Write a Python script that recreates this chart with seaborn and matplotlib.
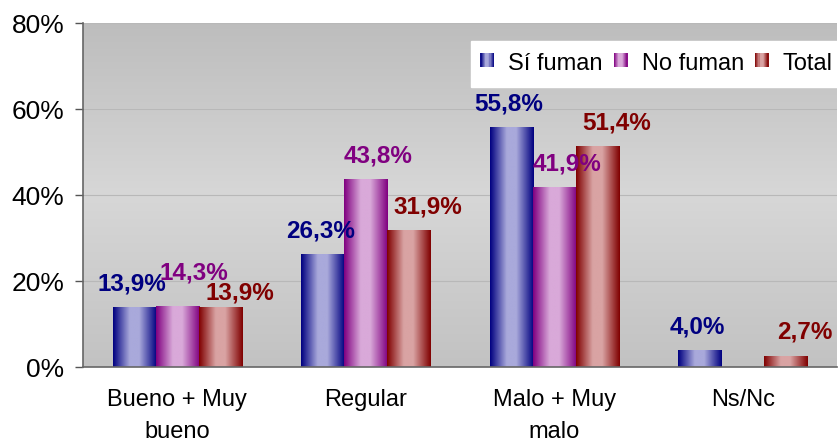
import numpy as np
import pandas as pd
import matplotlib
matplotlib.use('Agg')
import matplotlib.pyplot as plt
import seaborn as sns
from matplotlib.colors import LinearSegmentedColormap
from matplotlib.patches import Rectangle
from matplotlib.legend_handler import HandlerBase

# datos (porcentajes)
categorias = ['Bueno + Muy\nbueno', 'Regular', 'Malo + Muy\nmalo', 'Ns/Nc']
series = ['Sí fuman', 'No fuman', 'Total']
si_fuman = [13.9, 26.3, 55.8, 4.0]
no_fuman = [14.3, 43.8, 41.9, np.nan]
total = [13.9, 31.9, 51.4, 2.7]
yticks = [0, 20, 40, 60, 80]

oscuros = ['#000080', '#800080', '#800000']
claros = ['#a9a9db', '#d9a9d9', '#d9a3a3']

df = pd.DataFrame({
    'categoria': categorias * 3,
    'serie': np.repeat(series, len(categorias)),
    'valor': si_fuman + no_fuman + total,
})

sns.set_style('white')
plt.rcParams['font.family'] = ['Liberation Sans', 'DejaVu Sans']
plt.rcParams['text.color'] = 'black'
plt.rcParams['xtick.color'] = 'black'
plt.rcParams['ytick.color'] = 'black'

fig = plt.figure(figsize=(8.39, 4.44), dpi=100)
ax = fig.add_axes([0.099, 0.173, 0.8986, 0.775])

sns.barplot(data=df, x='categoria', y='valor', hue='serie', order=categorias,
            hue_order=series, width=0.685, legend=False, ax=ax)

# fondo gris degradado (vertical)
grad_fondo = LinearSegmentedColormap.from_list(
    'fondo', [(0, '#c2c2c2'), (0.5, '#d7d7d7'), (1, '#bdbdbd')])
ax.imshow(np.linspace(0, 1, 256).reshape(-1, 1), cmap=grad_fondo, aspect='auto',
          extent=[0, 1, 0, 1], transform=ax.transAxes, zorder=0, origin='lower')


def cmap_barra(i):
    return LinearSegmentedColormap.from_list(
        f'b{i}', [(0, oscuros[i]), (0.38, claros[i]), (0.6, claros[i]), (1, oscuros[i])])


# desplazamiento de etiquetas (puntos) por serie; el primer grupo va escalonado
offs_x = [-1.5, 9, 14]
escalon = {(1, 0): (3, 7), (2, 0): (0, -6)}
grad = np.linspace(0, 1, 128).reshape(1, -1)
for i, cont in enumerate(ax.containers):
    cm = cmap_barra(i)
    for j, bar in enumerate(cont):
        h = bar.get_height()
        if not np.isfinite(h) or h <= 0:
            continue
        x0, w = bar.get_x(), bar.get_width()
        bar.set_facecolor('none')
        bar.set_edgecolor('none')
        im = ax.imshow(grad, cmap=cm, aspect='auto', extent=[x0, x0 + w, 0, h],
                       zorder=2, interpolation='bilinear')
        im.set_clip_path(bar)
        dx, dy = escalon.get((i, j), (0, 0))
        ax.annotate(f'{h:.1f}%'.replace('.', ','), (x0 + w / 2, h),
                    xytext=(offs_x[i] + dx, 12 + dy), textcoords='offset points',
                    ha='center', va='baseline', fontsize=17.5, fontweight='bold',
                    color=oscuros[i], zorder=5)

ax.set_xlim(-0.5, len(categorias) - 0.5)
ax.set_ylim(0, 80)

# ejes estilo Excel
ax.set_yticks(yticks)
ax.set_yticklabels([f'{t}%' for t in yticks], fontsize=19)
ax.yaxis.grid(True, color='#b8b8b8', linewidth=0.8)
ax.set_axisbelow(True)
ax.set_xticks(range(len(categorias)))
ax.set_xticklabels(categorias, fontsize=17, linespacing=1.55)
ax.tick_params(axis='x', length=0, pad=16)
ax.set_xticks(np.arange(-0.5, len(categorias)), minor=True)
ax.tick_params(axis='x', which='minor', length=6, color='#555555', width=1)
ax.tick_params(axis='y', length=5.5, color='#555555', width=1, pad=8, left=True)
ax.set_xlabel('')
ax.set_ylabel('')
for lado in ['top', 'right']:
    ax.spines[lado].set_visible(False)
for lado in ['left', 'bottom']:
    ax.spines[lado].set_color('#666666')
    ax.spines[lado].set_linewidth(1.2)


class HandlerGradiente(HandlerBase):
    def __init__(self, idx):
        super().__init__()
        self.idx = idx

    def create_artists(self, legend, orig_handle, xdescent, ydescent, width,
                       height, fontsize, trans):
        cm = cmap_barra(self.idx)
        n = 12
        lado = height * 1.0
        x0 = -xdescent + width - lado
        y0 = -ydescent + 1
        arts = []
        for k in range(n):
            arts.append(Rectangle((x0 + k * lado / n, y0), lado / n + 0.2, lado,
                                  facecolor=cm((k + 0.5) / n), edgecolor='none',
                                  transform=trans))
        return arts


handles = [Rectangle((0, 0), 1, 1) for _ in series]
leg = ax.legend(handles, series, loc='upper right', bbox_to_anchor=(1.01, 0.948),
                fontsize=17, frameon=True, fancybox=False, framealpha=1,
                edgecolor='white', ncol=3, handlelength=0.45, handleheight=0.5,
                handletextpad=0.6, columnspacing=0.6, borderpad=0.5,
                borderaxespad=0,
                handler_map={h: HandlerGradiente(i) for i, h in enumerate(handles)})
leg.set_zorder(10)

fig.savefig('out.png', dpi=100)
